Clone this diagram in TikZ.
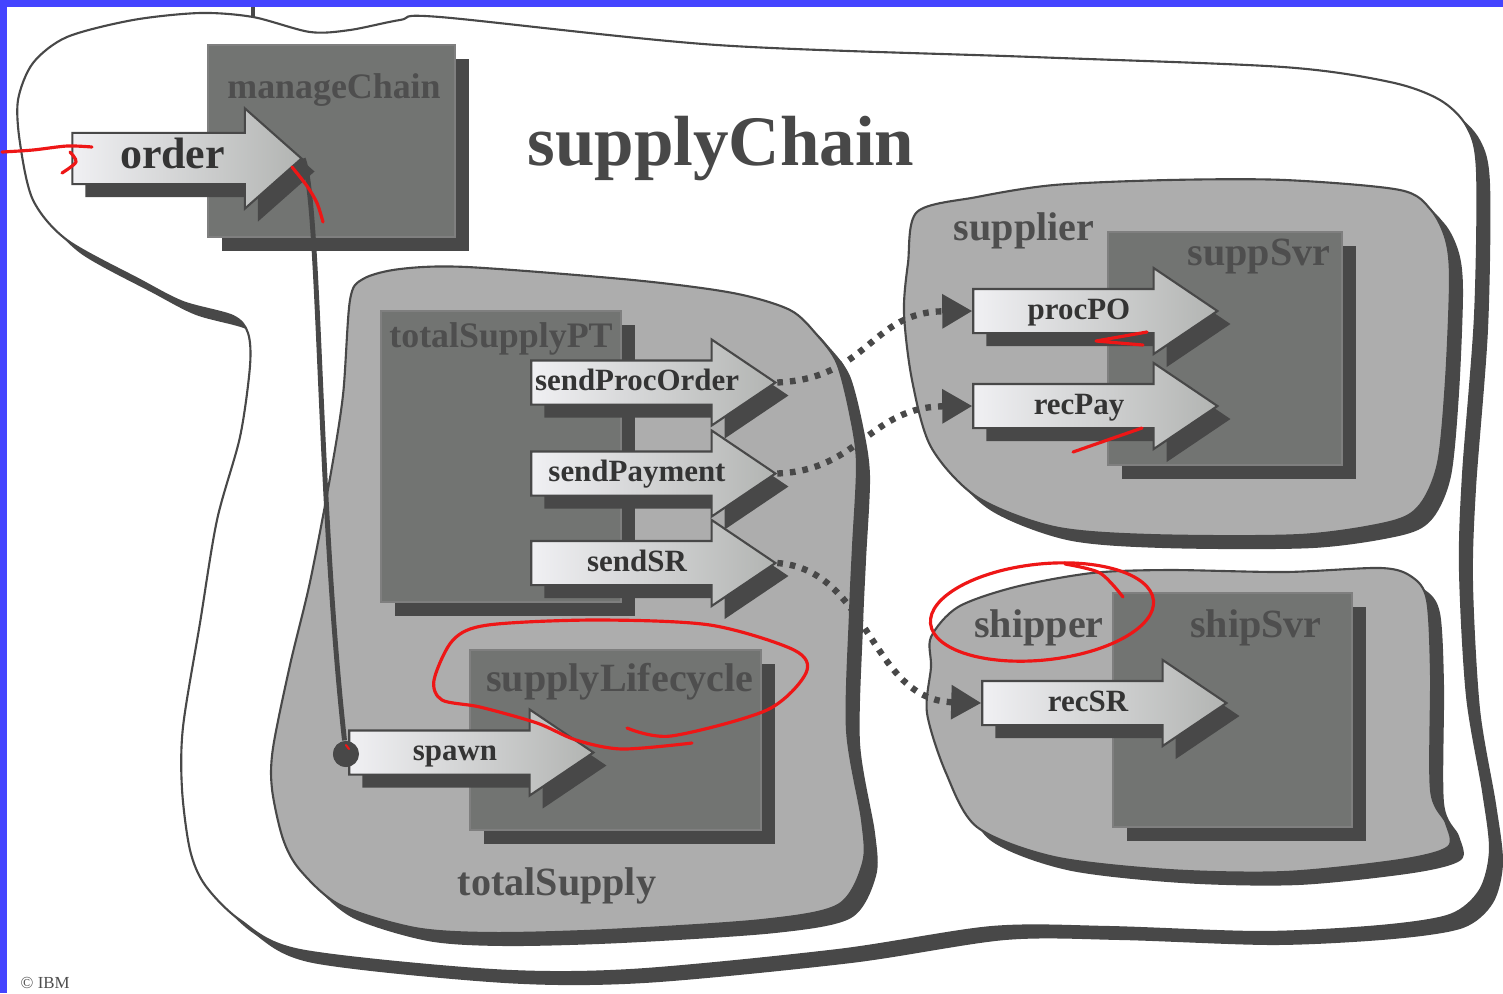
\documentclass[tikz,border=0pt]{standalone}
\usepackage{fontspec}
\setmainfont{Liberation Serif}
\usetikzlibrary{arrows.meta, shapes.arrows, shadows}

\definecolor{borderBlue}{RGB}{68,68,255}
\definecolor{shadowGray}{RGB}{72,72,72}
\definecolor{boxGray}{RGB}{114,116,114}
\definecolor{blobGray}{RGB}{173,173,173}
\definecolor{labelGray}{RGB}{78,78,78}
\definecolor{portText}{RGB}{52,52,52}
\definecolor{arrowLight}{RGB}{240,240,243}
\definecolor{arrowDark}{RGB}{178,180,178}
\definecolor{redInk}{RGB}{238,22,22}

\begin{document}
\begin{tikzpicture}[
    x=0.01cm, y=-0.01cm,
    every node/.style={font=\bfseries, text=labelGray},
    shadowed/.style={drop shadow={opacity=1, fill=shadowGray, shadow xshift=#1, shadow yshift=-#1}},
    blob/.style={draw=shadowGray, line width=0.6pt, fill=blobGray, shadowed=0.13cm},
    box/.style={rectangle, draw=shadowGray!70, fill=boxGray, line width=0.5pt, inner sep=0pt, shadowed=0.14cm},
    title/.style={anchor=base, font=\bfseries\fontsize{11.4}{12}\selectfont},
    port/.style={single arrow, single arrow head extend=0.21cm, single arrow tip angle=68,
      minimum height=2.44cm, text height=0.22cm, text depth=0.06cm, inner ysep=0.07cm,
      left color=arrowLight, right color=arrowDark, draw=shadowGray, line width=0.6pt,
      font=\bfseries\fontsize{8.8}{9}\selectfont, text=portText, shadowed=0.13cm},
    wire/.style={draw=shadowGray, line width=1.8pt, dash pattern=on 1.6pt off 2pt,
      -{Triangle[length=0.3cm, width=0.33cm]}},
    scribble/.style={draw=redInk, line width=0.9pt, line cap=round, line join=round}
  ]
  % frame and page border
  \path[fill=white] (0,0) rectangle (1503,993);
  \fill[borderBlue] (0,0) rectangle (1503,7);
  \fill[borderBlue] (0,0) rectangle (7,993);
  \draw[shadowGray, line width=1pt] (253,7) -- (253,18);

  % supplyChain outline
  \path[blob, fill=white] plot[smooth cycle] coordinates {
    (18,100) (33,63) (67,37) (133,20) (200,13) (253,17) (310,32) (350,30)
    (400,20) (440,17) (717,45) (1033,57) (1283,67) (1390,82) (1440,100)
    (1467,127) (1477,171) (1475,316) (1463,475) (1460,570) (1467,696)
    (1483,791) (1490,850) (1480,890) (1450,915) (1380,926) (1262,932)
    (1108,927) (992,927) (838,950) (631,970) (492,970) (300,950) (240,920)
    (205,885) (190,850) (182,789) (183,727) (200,623) (217,520) (240,437)
    (250,366) (248,333) (233,316) (183,302) (140,280) (67,240) (33,200) (20,143)};
  \node[anchor=base, font=\bfseries\fontsize{20.2}{22}\selectfont, text=shadowGray] (supplyChainLbl) at (721,165) {supplyChain};

  % manageChain
  \node[box, minimum width=2.47cm, minimum height=1.92cm] (manageChain) at (331.5,141) {};
  \node[title, font=\bfseries\fontsize{10.2}{11}\selectfont] (manageChainLbl) at (334,98) {manageChain};

  % totalSupply
  \path[blob] plot[smooth cycle] coordinates {
    (350,300) (363,279) (400,269) (467,267) (633,280) (733,293) (790,310)
    (817,335) (837,363) (850,413) (857,463) (853,547) (850,613) (847,730)
    (862,820) (863,863) (838,905) (762,920) (608,930) (492,933) (415,928)
    (340,905) (300,870) (283,839) (272,789) (273,748) (290,665) (310,582)
    (330,478) (343,395)};
  \node[box, minimum width=2.40cm, minimum height=2.91cm] (totalSupplyPT) at (501,456.5) {};
  \node[title, font=\bfseries\fontsize{10.2}{11}\selectfont] (totalSupplyPTLbl) at (501,347) {totalSupplyPT};
  \node[box, minimum width=2.91cm, minimum height=1.80cm] (supplyLifecycle) at (615.5,740) {};
  \node[title] (supplyLifecycleLbl) at (620,691) {supplyLifecycle};
  \node[title] (totalSupplyLbl) at (557,895) {totalSupply};

  % supplier
  \path[blob] plot[smooth cycle] coordinates {
    (917,212) (977,197) (1054,185) (1169,180) (1285,180) (1400,190)
    (1431,210) (1446,240) (1450,280) (1446,380) (1438,463) (1420,505)
    (1390,522) (1300,535) (1150,535) (1054,527) (977,497) (931,447)
    (912,380) (904,313) (908,263)};
  \node[title] (supplierLbl) at (1024,240) {supplier};
  \node[box, minimum width=2.34cm, minimum height=2.33cm] (suppSvr) at (1225,348.5) {};
  \node[title] (suppSvrLbl) at (1259,265) {suppSvr};

  % shipper
  \path[blob] plot[smooth cycle] coordinates {
    (931,637) (958,607) (1015,587) (1092,573) (1169,570) (1285,572)
    (1381,568) (1412,577) (1427,600) (1431,673) (1431,790) (1446,823)
    (1448,847) (1400,860) (1285,872) (1169,870) (1054,857) (977,827)
    (946,773) (927,713) (931,667)};
  \node[title] (shipperLbl) at (1039,637) {shipper};
  \node[box, minimum width=2.39cm, minimum height=2.34cm] (shipSvr) at (1232.5,710) {};
  \node[title] (shipSvrLbl) at (1256,637) {shipSvr};

  % ports
  \node[port, single arrow head extend=0.245cm, single arrow tip angle=83, minimum height=2.29cm,
    text height=0.27cm, text depth=0.08cm, font=\bfseries\fontsize{12.5}{13}\selectfont] (order) at (172.5,158.5) {\makebox[0pt]{order}};
  \node[circle, fill=shadowGray, inner sep=0pt, minimum size=0.26cm] (spawnDot) at (346,754) {};
  \draw[shadowGray, line width=1.4pt] (order.tip) .. controls (320,200) and (318,500) .. (spawnDot);
  \node[port] (sendProcOrder) at (637,382.5) {\makebox[0pt]{sendProcOrder}};
  \node[port] (sendPayment) at (637,473.5) {\makebox[0pt]{sendPayment}};
  \node[port] (sendSR) at (637,563) {\makebox[0pt]{sendSR}};
  \node[port] (procPO) at (1079,311) {\makebox[0pt]{procPO}};
  \node[port] (recPay) at (1079,406) {\makebox[0pt]{recPay}};
  \node[port] (recSR) at (1088,703) {\makebox[0pt]{recSR}};
  \node[port] (spawn) at (455,752.5) {\makebox[0pt]{spawn}};
  \node[circle, fill=shadowGray, inner sep=0pt, minimum size=0.26cm] at (spawnDot) {};

  % message links
  \draw[wire] (sendProcOrder.tip) .. controls (870,378) and (870,312) .. (procPO.tail);
  \draw[wire] (sendPayment.tip) .. controls (860,470) and (870,407) .. (recPay.tail);
  \draw[wire] (sendSR.tip) .. controls (870,570) and (870,700) .. (recSR.tail);

  % red pen marks
  \draw[scribble] plot[smooth] coordinates {(2,152) (33,150) (67,146) (92,147)};
  \draw[scribble] plot[smooth] coordinates {(70,152) (76,162) (62,173)};
  \draw[scribble] plot[smooth] coordinates {(292,167) (307,186) (317,203) (323,222)};
  \draw[scribble] (1147,332) -- (1096,341) -- (1143,345);
  \draw[scribble] (1073,452) -- (1142,428);
  \draw[scribble, rotate around={6:(1042,612)}] (1042,612) ellipse[x radius=1.12cm, y radius=0.48cm];
  \draw[scribble] plot[smooth] coordinates {(1065,564) (1100,573) (1123,597)};
  \draw[scribble] plot[smooth] coordinates {(627,728) (671,736) (767,710) (806,673) (794,650)
    (710,625) (595,620) (488,625) (453,640) (434,680) (442,700) (480,707) (537,723)
    (576,740) (622,749) (692,743)};
  \draw[scribble, line width=0.6pt] (346,745) -- (349,749);

  \node[anchor=base west, inner sep=0pt, font=\fontsize{4.8}{5}\selectfont, text=labelGray] (ibm) at (20,988) {\textcopyright\ IBM};
\end{tikzpicture}
\end{document}
